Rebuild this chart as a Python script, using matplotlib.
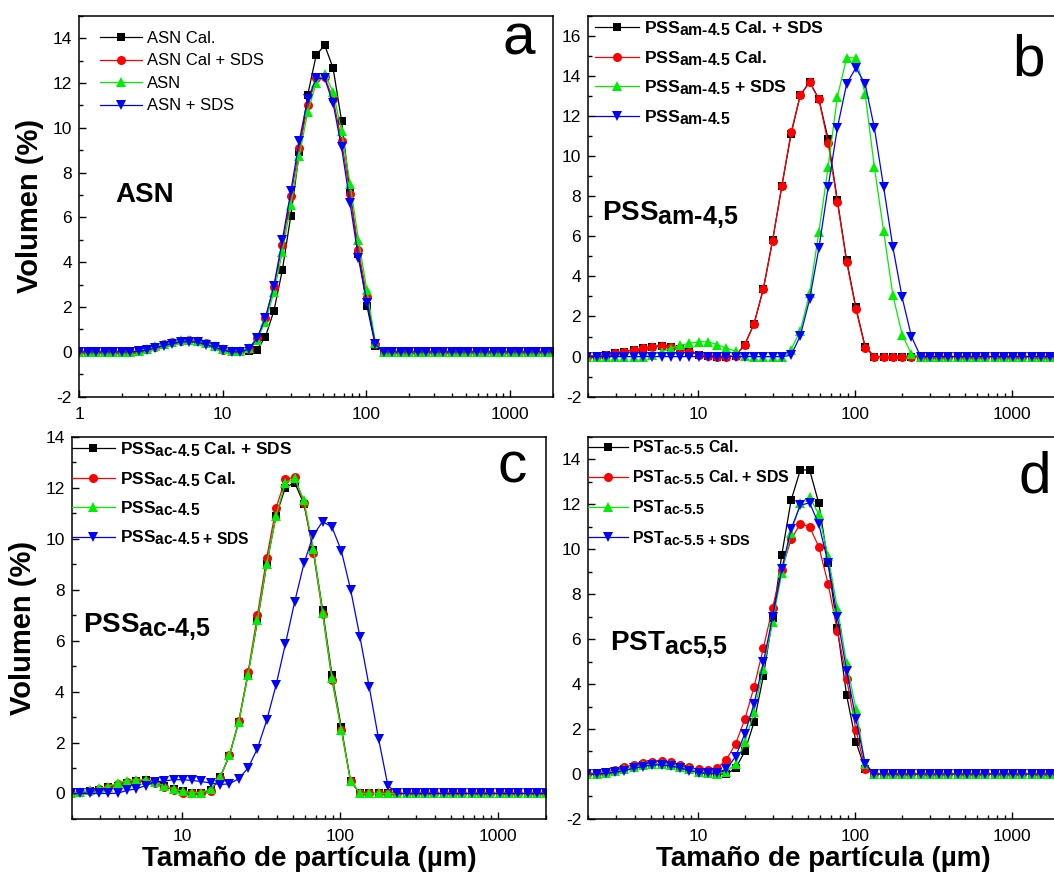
import matplotlib
matplotlib.use('Agg')
import matplotlib.pyplot as plt
import matplotlib._mathtext as mathtext_mod
from matplotlib.ticker import MultipleLocator, FuncFormatter

plt.rcParams['font.family'] = 'Liberation Sans'
plt.rcParams['mathtext.default'] = 'regular'
plt.rcParams['axes.unicode_minus'] = False
# subindices casi del mismo tamaño que el texto (como en Origin)
mathtext_mod.SHRINK_FACTOR = 0.9

# tamaños de partícula (µm) del difractómetro
sizes = [1.000, 1.151, 1.318, 1.510, 1.729, 1.981, 2.269, 2.599, 2.976, 3.409,
         3.905, 4.472, 5.122, 5.867, 6.720, 7.697, 8.816, 10.097, 11.565, 13.246,
         15.172, 17.377, 19.904, 22.797, 26.111, 29.907, 34.255, 39.234, 44.938, 51.471,
         58.953, 67.523, 77.339, 88.583, 101.460, 116.210, 133.103, 152.453, 174.616, 200.000,
         229.075, 262.376, 300.518, 344.206, 394.244, 451.556, 517.200, 592.387, 678.504, 777.141,
         890.116, 1019.515, 1167.725, 1337.481, 1531.914, 1754.613, 2000.000]

# ---- panel a: ASN
asn_cal = [0, 0, 0, 0, 0, 0, 0, 0.02, 0.10, 0.20,
           0.30, 0.40, 0.47, 0.50, 0.45, 0.35, 0.22, 0.08, 0.02, 0,
           0.03, 0.10, 0.67, 1.83, 3.65, 6.07, 8.90, 11.47, 13.24, 13.69,
           12.66, 10.31, 7.16, 4.36, 2.05, 0.27, 0, 0, 0, 0,
           0, 0, 0, 0, 0, 0, 0, 0, 0, 0,
           0, 0, 0, 0, 0, 0, 0]
asn_cal_sds = [0, 0, 0, 0, 0, 0, 0, 0.03, 0.12, 0.22,
               0.33, 0.42, 0.50, 0.53, 0.48, 0.38, 0.25, 0.10, 0.03, 0.02,
               0.15, 0.60, 1.50, 2.90, 4.75, 6.95, 9.10, 11.00, 12.20, 12.25,
               11.30, 9.40, 7.05, 4.55, 2.45, 0.35, 0, 0, 0, 0,
               0, 0, 0, 0, 0, 0, 0, 0, 0, 0,
               0, 0, 0, 0, 0, 0, 0]
asn = [0, 0, 0, 0, 0, 0, 0, 0.04, 0.13, 0.24,
       0.35, 0.45, 0.52, 0.55, 0.50, 0.40, 0.26, 0.12, 0.04, 0.03,
       0.18, 0.55, 1.35, 2.65, 4.45, 6.55, 8.75, 10.70, 12.00, 12.40,
       11.60, 9.85, 7.50, 5.00, 2.75, 0.40, 0, 0, 0, 0,
       0, 0, 0, 0, 0, 0, 0, 0, 0, 0,
       0, 0, 0, 0, 0, 0, 0]
asn_sds = [0, 0, 0, 0, 0, 0, 0, 0.02, 0.08, 0.18,
           0.28, 0.37, 0.44, 0.46, 0.42, 0.32, 0.20, 0.07, 0.01, 0,
           0.12, 0.60, 1.53, 2.95, 4.99, 7.16, 9.42, 11.28, 12.20, 12.20,
           11.09, 9.12, 6.64, 4.17, 2.20, 0.34, 0, 0, 0, 0,
           0, 0, 0, 0, 0, 0, 0, 0, 0, 0,
           0, 0, 0, 0, 0, 0, 0]

# ---- panel b: PSS am-4.5
pss_am_cal_sds = [0, 0, 0, 0, 0, 0, 0.05, 0.10, 0.17, 0.25,
                  0.33, 0.42, 0.50, 0.54, 0.50, 0.38, 0.25, 0.10, 0.02, 0,
                  0, 0.05, 0.60, 1.65, 3.38, 5.80, 8.50, 11.10, 13.05, 13.70,
                  12.85, 10.85, 7.80, 4.80, 2.45, 0.50, 0, 0, 0, 0,
                  0, 0, 0, 0, 0, 0, 0, 0, 0, 0,
                  0, 0, 0, 0, 0, 0, 0]
pss_am_cal = [0, 0, 0, 0, 0, 0, 0.05, 0.10, 0.17, 0.25,
              0.33, 0.42, 0.50, 0.55, 0.50, 0.38, 0.25, 0.10, 0.02, 0,
              0, 0.05, 0.58, 1.63, 3.35, 5.77, 8.52, 11.18, 13.05, 13.68,
              12.84, 10.65, 7.71, 4.73, 2.37, 0.45, 0, 0, 0, 0,
              0, 0, 0, 0, 0, 0, 0, 0, 0, 0,
              0, 0, 0, 0, 0, 0, 0]
pss_am_sds = [0, 0, 0, 0, 0, 0, 0, 0, 0, 0,
              0, 0, 0.08, 0.25, 0.40, 0.57, 0.66, 0.74, 0.74, 0.60,
              0.42, 0.28, 0.05, 0, 0, 0, 0, 0.35, 1.30, 3.15,
              6.20, 9.45, 12.95, 14.90, 14.90, 13.10, 9.45, 6.25, 3.05, 1.10,
              0.12, 0, 0, 0, 0, 0, 0, 0, 0, 0,
              0, 0, 0, 0, 0, 0, 0]
pss_am = [0, 0, 0, 0, 0, 0, 0, 0, 0, 0,
          0, 0, 0, 0, 0, 0, 0, 0, 0, 0,
          0, 0, 0, 0, 0, 0, 0, 0.06, 1.05, 2.85,
          5.40, 8.45, 11.40, 13.60, 14.40, 13.60, 11.40, 8.45, 5.45, 2.95,
          1.00, 0, 0, 0, 0, 0, 0, 0, 0, 0,
          0, 0, 0, 0, 0, 0, 0]

# ---- panel c: PSS ac-4.5
pss_ac_cal_sds = [0, 0, 0, 0, 0, 0, 0.02, 0.08, 0.14, 0.25,
                  0.31, 0.42, 0.47, 0.51, 0.45, 0.28, 0.18, 0.08, 0.01, 0.01,
                  0.12, 0.64, 1.49, 2.80, 4.70, 6.75, 9.00, 10.90, 12.00, 12.20,
                  11.35, 9.55, 7.20, 4.65, 2.60, 0.48, 0, 0, 0, 0,
                  0, 0, 0, 0, 0, 0, 0, 0, 0, 0,
                  0, 0, 0, 0, 0, 0, 0]
pss_ac_cal = [0, 0, 0, 0, 0, 0, 0.04, 0.10, 0.18, 0.26,
              0.38, 0.46, 0.50, 0.50, 0.42, 0.26, 0.14, 0, 0, 0.02,
              0.10, 0.62, 1.50, 2.85, 4.75, 7.00, 9.25, 11.20, 12.33, 12.41,
              11.40, 9.45, 7.05, 4.45, 2.50, 0.48, 0, 0, 0, 0,
              0, 0, 0, 0, 0, 0, 0, 0, 0, 0,
              0, 0, 0, 0, 0, 0, 0]
pss_ac = [0, 0, 0, 0, 0, 0, 0.05, 0.12, 0.20, 0.27,
          0.42, 0.50, 0.54, 0.54, 0.45, 0.30, 0.18, 0.08, 0.03, 0.03,
          0.18, 0.64, 1.50, 2.80, 4.65, 6.80, 9.00, 10.90, 12.20, 12.37,
          11.50, 9.60, 7.10, 4.55, 2.50, 0.48, 0, 0, 0, 0,
          0, 0, 0, 0, 0, 0, 0, 0, 0, 0,
          0, 0, 0, 0, 0, 0, 0]
pss_ac_sds = [0, 0, 0, 0, 0, 0, 0, 0, 0, 0,
              0.01, 0.12, 0.18, 0.31, 0.45, 0.49, 0.54, 0.54, 0.51, 0.47,
              0.41, 0.35, 0.38, 0.58, 1.00, 1.76, 2.87, 4.25, 5.86, 7.52,
              9.03, 10.14, 10.67, 10.45, 9.53, 8.00, 6.15, 4.18, 2.15, 0.31,
              0, 0, 0, 0, 0, 0, 0, 0, 0, 0,
              0, 0, 0, 0, 0, 0, 0]

# ---- panel d: PST ac-5.5
pst_cal = [0, 0, 0, 0, 0, 0, 0.02, 0.05, 0.12, 0.20,
           0.30, 0.38, 0.44, 0.45, 0.42, 0.33, 0.20, 0.08, 0.02, 0,
           0, 0.25, 1.00, 2.31, 4.35, 6.93, 9.76, 12.17, 13.52, 13.52,
           12.03, 9.38, 6.48, 3.50, 1.44, 0.22, 0, 0, 0, 0,
           0, 0, 0, 0, 0, 0, 0, 0, 0, 0,
           0, 0, 0, 0, 0, 0, 0]
pst_cal_sds = [0, 0, 0, 0, 0, 0.02, 0.05, 0.10, 0.18, 0.30,
               0.42, 0.50, 0.55, 0.57, 0.52, 0.42, 0.30, 0.20, 0.18, 0.25,
               0.63, 1.34, 2.43, 3.87, 5.59, 7.40, 9.09, 10.43, 11.13, 10.99,
               10.10, 8.46, 6.37, 4.24, 1.97, 0.22, 0, 0, 0, 0,
               0, 0, 0, 0, 0, 0, 0, 0, 0, 0,
               0, 0, 0, 0, 0, 0, 0]
pst = [0, 0, 0, 0, 0, 0, 0.02, 0.06, 0.12, 0.20,
       0.30, 0.38, 0.44, 0.46, 0.42, 0.33, 0.20, 0.08, 0.03, 0.02,
       0.10, 0.45, 1.41, 2.76, 4.69, 6.78, 8.94, 10.72, 12.06, 12.33,
       11.54, 9.68, 7.37, 4.92, 2.90, 0.45, 0, 0, 0, 0,
       0, 0, 0, 0, 0, 0, 0, 0, 0, 0,
       0, 0, 0, 0, 0, 0, 0]
pst_sds = [0, 0, 0, 0, 0, 0, 0, 0.03, 0.08, 0.15,
           0.25, 0.33, 0.40, 0.40, 0.35, 0.27, 0.15, 0.06, 0.03, 0.03,
           0.22, 0.77, 1.79, 3.13, 4.96, 7.00, 9.12, 10.90, 11.95, 12.06,
           11.10, 9.38, 6.97, 4.59, 2.46, 0.45, 0, 0, 0, 0,
           0, 0, 0, 0, 0, 0, 0, 0, 0, 0,
           0, 0, 0, 0, 0, 0, 0]

HY = '\u2010'  # guion corto dentro del subíndice
am = '$_{am' + HY + '4.5}$'
ac = '$_{ac' + HY + '4.5}$'
ac_sds = '$_{ac' + HY + r'4.5\;{+}\;SDS}$'
pst_s = '$_{ac' + HY + '5.5}$'
pst_s_sds = '$_{ac' + HY + r'5.5\;{+}\;SDS}$'

colores = ['black', 'red', '#00ee00', 'blue']
marcadores = ['s', 'o', '^', 'v']
tam_marc = [6, 6.5, 7, 7]

fig = plt.figure(figsize=(10.54, 8.73), dpi=100)


def panel(pos, series, etiquetas, xmin, ymin, ymax, letra, letra_pos, nombre, nombre_pos,
          leg_pos, leg_bold, leg_space, leg_size=12, xlabel=False, ylabel=False):
    ax = fig.add_axes(pos)
    for y, lab, c, m, ms in zip(series, etiquetas, colores, marcadores, tam_marc):
        ax.plot(sizes, y, color=c, marker=m, markersize=ms, markeredgewidth=0,
                linewidth=0.9, label=lab)
    ax.set_xscale('log')
    ax.set_xlim(xmin, 2000)
    ax.set_ylim(ymin, ymax)
    ax.yaxis.set_major_locator(MultipleLocator(2))
    ax.yaxis.set_minor_locator(MultipleLocator(1))
    ax.xaxis.set_major_formatter(FuncFormatter(lambda v, p: f'{v:g}'))
    ax.tick_params(which='both', direction='in', top=False, right=False,
                   width=1, labelsize=12.5)
    ax.tick_params(axis='x', pad=7.5)
    ax.tick_params(axis='y', pad=5)
    ax.tick_params(which='major', length=5)
    ax.tick_params(which='minor', length=3)
    for s in ax.spines.values():
        s.set_linewidth(1.1)
    ax.text(letra_pos[0], letra_pos[1], letra, transform=ax.transAxes,
            fontsize=42, ha='left', va='baseline')
    ax.text(nombre_pos[0], nombre_pos[1], nombre, transform=ax.transAxes,
            fontsize=20, fontweight='bold', ha='left', va='baseline')
    ax.legend(loc='upper left', bbox_to_anchor=leg_pos, frameon=False,
              borderpad=0, borderaxespad=0, handlelength=2.5, handletextpad=0.3,
              labelspacing=leg_space,
              prop={'size': leg_size, 'weight': 'bold' if leg_bold else 'normal'})
    if xlabel:
        ax.set_xlabel('Tamaño de partícula (µm)', fontsize=20, fontweight='bold', labelpad=1)
    if ylabel:
        ax.set_ylabel('Volumen (%)', fontsize=21, fontweight='bold', labelpad=6)
    return ax


panel([0.075, 0.5456, 0.4494, 0.4364],
      [asn_cal, asn_cal_sds, asn, asn_sds],
      ['ASN Cal.', 'ASN Cal + SDS', 'ASN', 'ASN + SDS'],
      1, -2, 15, 'a', (0.895, 0.897), 'ASN', (0.076, 0.511),
      (0.044, 0.96), False, 0.45, ylabel=True)

panel([0.558, 0.5456, 0.4469, 0.4364],
      [pss_am_cal_sds, pss_am_cal, pss_am_sds, pss_am],
      ['PSS' + am + ' Cal. + SDS', 'PSS' + am + ' Cal.',
       'PSS' + am + ' + SDS', 'PSS' + am],
      2, -2, 17, 'b', (0.9, 0.844), 'PSS$_{am' + HY + '4{,}5}$', (0.03, 0.464),
      (0.015, 0.99), True, 0.62, leg_size=12.6)

panel([0.068, 0.0619, 0.450, 0.4379],
      [pss_ac_cal_sds, pss_ac_cal, pss_ac, pss_ac_sds],
      ['PSS' + ac + ' Cal. + SDS', 'PSS' + ac + ' Cal.',
       'PSS' + ac, 'PSS' + ac_sds],
      2, -1, 14, 'c', (0.897, 0.879), 'PSS$_{ac' + HY + '4{,}5}$', (0.023, 0.49),
      (0.0, 0.99), True, 0.62, leg_size=12.4, xlabel=True, ylabel=True)

panel([0.558, 0.0619, 0.4469, 0.4379],
      [pst_cal, pst_cal_sds, pst, pst_sds],
      ['PST' + pst_s + ' Cal.', 'PST' + pst_s + ' Cal. + SDS',
       'PST' + pst_s, 'PST' + pst_s_sds],
      2, -2, 15, 'd', (0.913, 0.853), 'PST$_{ac5{,}5}$', (0.047, 0.444),
      (0.0, 0.995), True, 0.72, leg_size=11.4, xlabel=True)

fig.savefig('out.png', dpi=100)
